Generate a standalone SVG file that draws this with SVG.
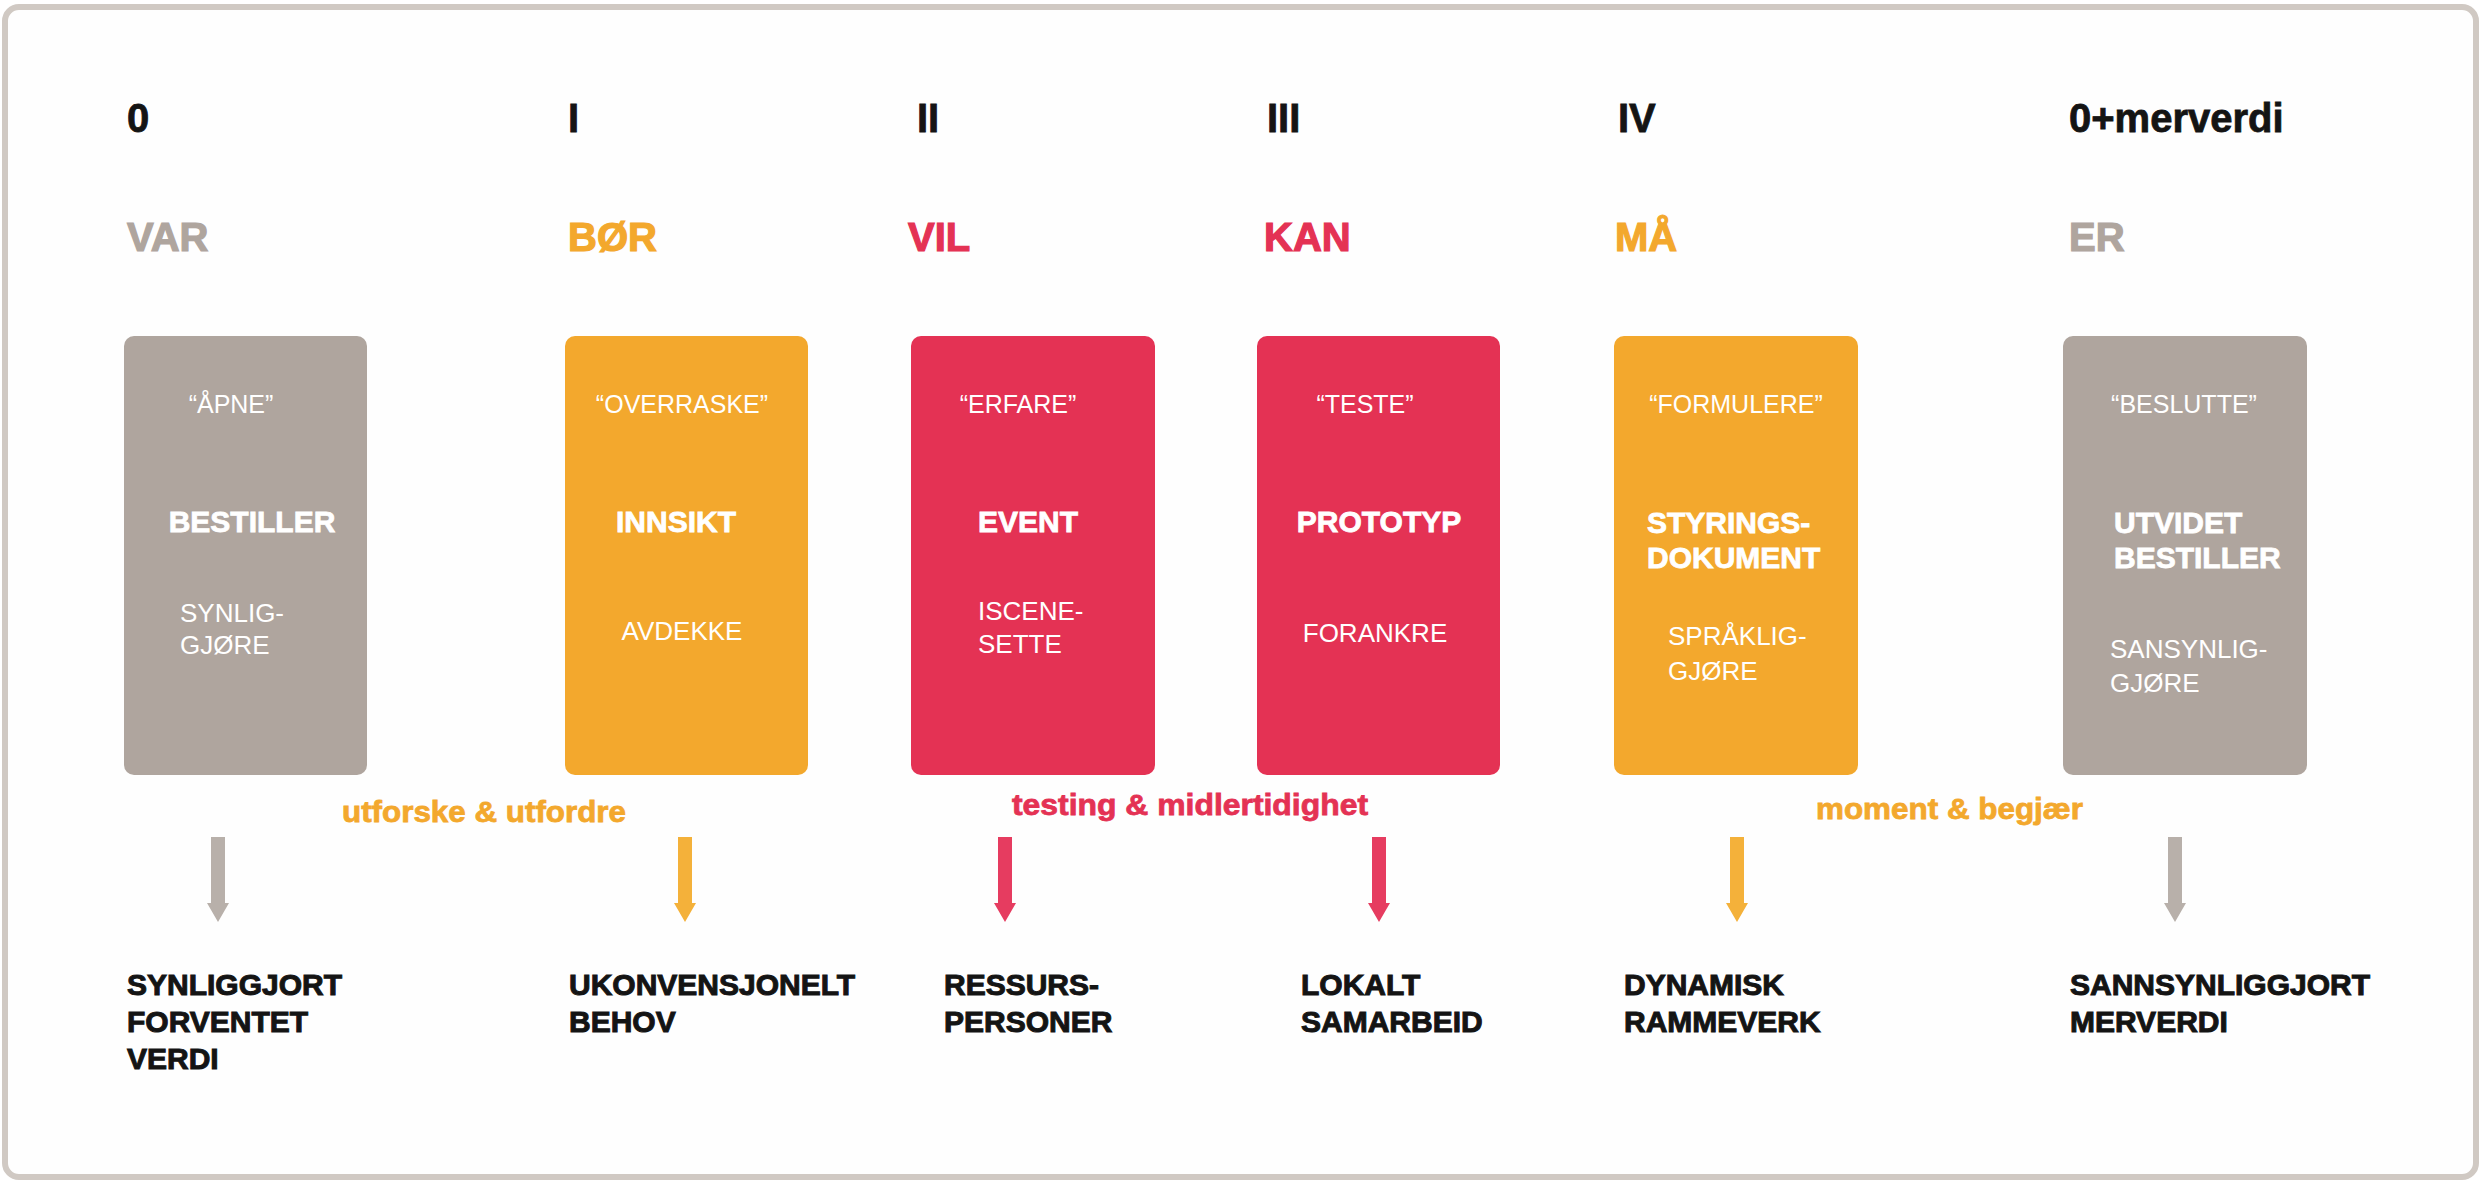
<svg xmlns="http://www.w3.org/2000/svg" xmlns:xlink="http://www.w3.org/1999/xlink" width="2483" height="1182" viewBox="0 0 2483 1182">
<defs>
<style>
.hd{font-family:"Liberation Sans",Arial,sans-serif;font-weight:700;font-size:40px;fill:#141414;stroke:#141414;stroke-width:0.8px}
.vb{font-family:"Liberation Sans",Arial,sans-serif;font-weight:700;font-size:40px;stroke-width:1.2px}
.q{font-family:"Liberation Sans",Arial,sans-serif;font-size:25px;fill:#ffffff;text-anchor:middle}
.t{font-family:"Liberation Sans",Arial,sans-serif;font-weight:700;font-size:30px;fill:#ffffff;stroke:#ffffff;stroke-width:0.8px}
.s{font-family:"Liberation Sans",Arial,sans-serif;font-size:26px;fill:#ffffff}
.mid{text-anchor:middle}
.out{font-family:"Liberation Sans",Arial,sans-serif;font-weight:700;font-size:30px;fill:#141414;stroke:#141414;stroke-width:1px}
.lab{font-family:"Liberation Sans",Arial,sans-serif;font-weight:700;font-size:30px;stroke-width:0.8px}
.grey{fill:#afa59e;stroke:#afa59e}
.orange{fill:#f3a82d;stroke:#f3a82d}
.red{fill:#e43254;stroke:#e43254}
rect.grey,rect.orange,rect.red{stroke:none}
.agrey{fill:#b8b0aa}
.aorange{fill:#f4b13a}
.ared{fill:#e63c60}
</style>
<path id="arr" d="M-7,837 H7 V903 H11 L0,922 L-11,903 H-7 Z"/>
</defs>
<rect x="5" y="7" width="2471" height="1170" rx="14" fill="#fefefe" stroke="#d0c9c3" stroke-width="6"/>

<g id="col0">
<text class="hd" x="127" y="132">0</text>
<text class="vb grey" x="127" y="251">VAR</text>
<rect class="grey" x="124" y="336" width="243" height="439" rx="10"/>
<text class="q" x="231" y="413">“ÅPNE”</text>
<text class="t mid" x="252" y="532">BESTILLER</text>
<text class="s" x="180" y="622">SYNLIG-</text>
<text class="s" x="180" y="654">GJØRE</text>
<text class="out" x="127" y="995">SYNLIGGJORT</text>
<text class="out" x="127" y="1032">FORVENTET</text>
<text class="out" x="127" y="1069">VERDI</text>
</g>

<g id="col1">
<text class="hd" x="568" y="132">I</text>
<text class="vb orange" x="568" y="251">BØR</text>
<rect class="orange" x="565" y="336" width="243" height="439" rx="10"/>
<text class="q" x="682" y="413">“OVERRASKE”</text>
<text class="t mid" x="676" y="532">INNSIKT</text>
<text class="s mid" x="682" y="640">AVDEKKE</text>
<text class="out" x="569" y="995">UKONVENSJONELT</text>
<text class="out" x="569" y="1032">BEHOV</text>
</g>

<g id="col2">
<text class="hd" x="917" y="132">II</text>
<text class="vb red" x="908" y="251">VIL</text>
<rect class="red" x="911" y="336" width="244" height="439" rx="10"/>
<text class="q" x="1018" y="413">“ERFARE”</text>
<text class="t mid" x="1028" y="532">EVENT</text>
<text class="s" x="978" y="620">ISCENE-</text>
<text class="s" x="978" y="653">SETTE</text>
<text class="out" x="944" y="995">RESSURS-</text>
<text class="out" x="944" y="1032">PERSONER</text>
</g>

<g id="col3">
<text class="hd" x="1267" y="132">III</text>
<text class="vb red" x="1264" y="251">KAN</text>
<rect class="red" x="1257" y="336" width="243" height="439" rx="10"/>
<text class="q" x="1365" y="413">“TESTE”</text>
<text class="t mid" x="1379" y="532">PROTOTYP</text>
<text class="s mid" x="1375" y="642">FORANKRE</text>
<text class="out" x="1301" y="995">LOKALT</text>
<text class="out" x="1301" y="1032">SAMARBEID</text>
</g>

<g id="col4">
<text class="hd" x="1618" y="132">IV</text>
<text class="vb orange" x="1615" y="251">MÅ</text>
<rect class="orange" x="1614" y="336" width="244" height="439" rx="10"/>
<text class="q" x="1736" y="413">“FORMULERE”</text>
<text class="t" x="1647" y="533">STYRINGS-</text>
<text class="t" x="1647" y="568">DOKUMENT</text>
<text class="s" x="1668" y="645">SPRÅKLIG-</text>
<text class="s" x="1668" y="680">GJØRE</text>
<text class="out" x="1624" y="995">DYNAMISK</text>
<text class="out" x="1624" y="1032">RAMMEVERK</text>
</g>

<g id="col5">
<text class="hd" x="2069" y="132">0+merverdi</text>
<text class="vb grey" x="2069" y="251">ER</text>
<rect class="grey" x="2063" y="336" width="244" height="439" rx="10"/>
<text class="q" x="2184" y="413">“BESLUTTE”</text>
<text class="t" x="2114" y="533">UTVIDET</text>
<text class="t" x="2114" y="568">BESTILLER</text>
<text class="s" x="2110" y="658">SANSYNLIG-</text>
<text class="s" x="2110" y="692">GJØRE</text>
<text class="out" x="2070" y="995">SANNSYNLIGGJORT</text>
<text class="out" x="2070" y="1032">MERVERDI</text>
</g>

<g id="labels">
<text class="lab orange" x="342" y="822" textLength="284" lengthAdjust="spacingAndGlyphs">utforske &amp; utfordre</text>
<text class="lab red" x="1012" y="815" textLength="356" lengthAdjust="spacingAndGlyphs">testing &amp; midlertidighet</text>
<text class="lab orange" x="1816" y="819" textLength="267" lengthAdjust="spacingAndGlyphs">moment &amp; begjær</text>
</g>

<g id="connectors">
<use xlink:href="#arr" href="#arr" x="218" class="agrey"/>
<use xlink:href="#arr" href="#arr" x="685" class="aorange"/>
<use xlink:href="#arr" href="#arr" x="1005" class="ared"/>
<use xlink:href="#arr" href="#arr" x="1379" class="ared"/>
<use xlink:href="#arr" href="#arr" x="1737" class="aorange"/>
<use xlink:href="#arr" href="#arr" x="2175" class="agrey"/>
</g>
</svg>
